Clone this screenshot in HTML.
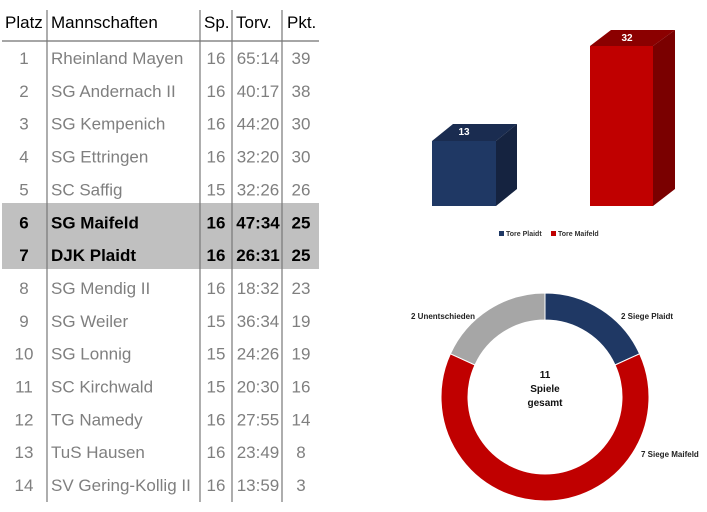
<!DOCTYPE html>
<html><head><meta charset="utf-8"><style>
body{margin:0;background:#fff;width:707px;height:512px;overflow:hidden}
svg{display:block}
text{font-family:"Liberation Sans",sans-serif}
.t{font-size:17px;fill:#7f7f7f}
.b{font-size:17px;fill:#000;font-weight:bold}
.h{font-size:17px;fill:#000}
</style></head><body>
<svg width="707" height="512" xmlns="http://www.w3.org/2000/svg">
<rect x="2" y="203" width="317" height="66" fill="#c0c0c0"/>
<line x1="2" y1="41" x2="319" y2="41" stroke="#888" stroke-width="1.5"/>
<g stroke="#777" stroke-width="1.2">
<line x1="47" y1="10" x2="47" y2="502"/><line x1="200" y1="10" x2="200" y2="502"/>
<line x1="232" y1="10" x2="232" y2="502"/><line x1="282" y1="10" x2="282" y2="502"/>
</g>
<g class="h"><text x="5" y="28">Platz</text><text x="51" y="28">Mannschaften</text><text x="204" y="28">Sp.</text><text x="236" y="28">Torv.</text><text x="287" y="28">Pkt.</text></g>
<g id="rows"></g>
<!-- bars -->
<polygon points="432,141 453,124 517,124 496,141" fill="#1a2c50"/>
<polygon points="496,141 517,124 517,189 496,206" fill="#152340"/>
<rect x="432" y="141" width="64" height="65" fill="#1f3864"/>
<text x="464" y="135" text-anchor="middle" font-size="10" font-weight="bold" fill="#fff">13</text>
<polygon points="590,46 611,30 675,30 653,46" fill="#8b0000"/>
<polygon points="653,46 675,30 675,189 653,206" fill="#7a0000"/>
<rect x="590" y="46" width="63" height="160" fill="#c00000"/>
<text x="627" y="41" text-anchor="middle" font-size="10" font-weight="bold" fill="#fff">32</text>
<rect x="499" y="231" width="5" height="5" fill="#1f3864"/>
<text x="506" y="236" font-size="7" font-weight="bold" fill="#333">Tore Plaidt</text>
<rect x="551" y="231" width="5" height="5" fill="#c00000"/>
<text x="558" y="236" font-size="7" font-weight="bold" fill="#333">Tore Maifeld</text>
<!-- donut -->
<g id="donut" stroke="#fff" stroke-width="1"></g>
<g font-size="8" font-weight="bold" fill="#222">
<text x="621" y="319">2 Siege Plaidt</text>
<text x="411" y="319">2 Unentschieden</text>
<text x="641" y="457">7 Siege Maifeld</text>
</g>
<g font-size="10" font-weight="bold" fill="#111" text-anchor="middle">
<text x="545" y="378">11</text><text x="545" y="392">Spiele</text><text x="545" y="406">gesamt</text>
</g>
</svg>
<script>
var d=[["1","Rheinland Mayen","16","65:14","39"],["2","SG Andernach II","16","40:17","38"],["3","SG Kempenich","16","44:20","30"],["4","SG Ettringen","16","32:20","30"],["5","SC Saffig","15","32:26","26"],["6","SG Maifeld","16","47:34","25"],["7","DJK Plaidt","16","26:31","25"],["8","SG Mendig II","16","18:32","23"],["9","SG Weiler","15","36:34","19"],["10","SG Lonnig","15","24:26","19"],["11","SC Kirchwald","15","20:30","16"],["12","TG Namedy","16","27:55","14"],["13","TuS Hausen","16","23:49","8"],["14","SV Gering-Kollig II","16","13:59","3"]];
var ns="http://www.w3.org/2000/svg",g=document.getElementById("rows");
function T(x,y,s,c,a){var t=document.createElementNS(ns,"text");t.setAttribute("x",x);t.setAttribute("y",y);t.setAttribute("class",c);if(a)t.setAttribute("text-anchor",a);t.textContent=s;g.appendChild(t);}
d.forEach(function(r,i){var y=64+i*32.85,c=(i==5||i==6)?"b":"t";T(24,y,r[0],c,"middle");T(51,y,r[1],c);T(216,y,r[2],c,"middle");T(258,y,r[3],c,"middle");T(301,y,r[4],c,"middle");});
var dn=document.getElementById("donut"),cx=545,cy=397,R=104,r=77,vals=[[2,"#1f3864"],[7,"#c00000"],[2,"#a6a6a6"]],a0=0;
vals.forEach(function(v){var a1=a0+v[0]/11*2*Math.PI;function p(rad,a){return [cx+rad*Math.sin(a),cy-rad*Math.cos(a)];}
var A=p(R,a0),B=p(R,a1),C=p(r,a1),D=p(r,a0),l=(a1-a0)>Math.PI?1:0;
var e=document.createElementNS(ns,"path");e.setAttribute("d","M"+A+"A"+R+","+R+" 0 "+l+" 1 "+B+"L"+C+"A"+r+","+r+" 0 "+l+" 0 "+D+"Z");e.setAttribute("fill",v[1]);dn.appendChild(e);a0=a1;});
</script>
</body></html>
